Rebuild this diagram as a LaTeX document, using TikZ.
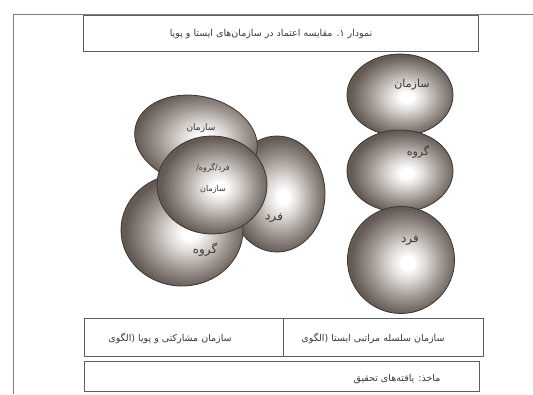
\documentclass[tikz,border=0pt]{standalone}
\usepackage{fontspec}
\usetikzlibrary{shapes.geometric}
\TeXXeTstate=1
\newfontfamily\farsi[Script=Arabic]{DejaVu Sans}
\newcommand{\fatext}[1]{{\farsi\beginR #1\endR}}
\definecolor{rimgray}{HTML}{635A54}
\definecolor{midgray}{HTML}{9C948E}
\definecolor{lightgray}{HTML}{D9D5D2}
\definecolor{linegray}{HTML}{3A3633}
\definecolor{txtgray}{HTML}{3C3835}
\pgfdeclareradialshading{sphere}{\pgfpoint{0.12cm}{-0.05cm}}{%
  color(0bp)=(white); color(3bp)=(white); color(9bp)=(lightgray);
  color(17bp)=(midgray); color(25bp)=(rimgray); color(50bp)=(rimgray)}
\begin{document}
\begin{tikzpicture}[x=1pt,y=-1pt,
  every node/.style={font=\fontsize{9.5}{11}\selectfont,text=txtgray},
  ball/.style={ellipse,draw=linegray,line width=0.8pt,shading=sphere,inner sep=0pt},
  box/.style={draw=linegray!80,line width=0.9pt,inner sep=0pt}]
  \useasboundingbox (0,0) rectangle (533,394);
  % page frame
  \draw[gray,line width=0.6pt] (13,394) -- (13,14) -- (533,14);
  % caption and footer boxes
  \node[box,minimum width=395pt,minimum height=36pt] (title) at (280.5,33) {};
  \node (titletxt) at (271,34) {\fatext{نمودار ۱. مقایسه اعتماد در سازمان‌های ایستا و پویا}};
  \node[box,minimum width=199pt,minimum height=38pt] (dynbox) at (183.5,337) {};
  \node[box,minimum width=200pt,minimum height=38pt] (statbox) at (383,337) {};
  \node (dyntxt) at (170,338) {\fatext{سازمان مشارکتی و پویا (الگوی}};
  \node (stattxt) at (373,338) {\fatext{سازمان سلسله مراتبی ایستا (الگوی}};
  \node[box,minimum width=395pt,minimum height=30pt] (srcbox) at (281.5,376) {};
  \node (srctxt) at (397,379) {\fatext{ماخذ: یافته‌های تحقیق}};
  % static model: stacked spheres
  \node[ball,minimum width=106pt,minimum height=82pt] (sorg) at (400,95) {};
  \node[ball,minimum width=106pt,minimum height=82pt] (sgrp) at (400,171) {};
  \node[ball,minimum width=107pt,minimum height=107pt] (sind) at (401,260) {};
  \node[font=\fontsize{11}{13}\selectfont] (sorgtxt) at (412,85) {\fatext{سازمان}};
  \node[font=\fontsize{11}{13}\selectfont] (sgrptxt) at (418,152) {\fatext{گروه}};
  \node[font=\fontsize{12}{14}\selectfont] (sindtxt) at (410,240) {\fatext{فرد}};
  % dynamic model: overlapping spheres
  \node[ball,minimum width=96pt,minimum height=116pt] (dind) at (277,194) {};
  \node[ball,minimum width=122pt,minimum height=112pt] (dgrp) at (182,230) {};
  \node[ball,rotate=-12,minimum width=124pt,minimum height=88pt] (dorg) at (196,140) {};
  \node[ball,minimum width=110pt,minimum height=98pt] (dall) at (212,185) {};
  \node[font=\fontsize{9}{11}\selectfont] (dorgtxt) at (201,128) {\fatext{سازمان}};
  \node[font=\fontsize{8}{10}\selectfont] (dalltxt) at (213,168) {\fatext{فرد/گروه/}};
  \node[font=\fontsize{8}{10}\selectfont] (dalltxt2) at (213,189) {\fatext{سازمان}};
  \node[font=\fontsize{12}{14}\selectfont,rotate=-8] (dindtxt) at (274,218) {\fatext{فرد}};
  \node[font=\fontsize{12}{14}\selectfont] (dgrptxt) at (205,250) {\fatext{گروه}};
\end{tikzpicture}
\end{document}
